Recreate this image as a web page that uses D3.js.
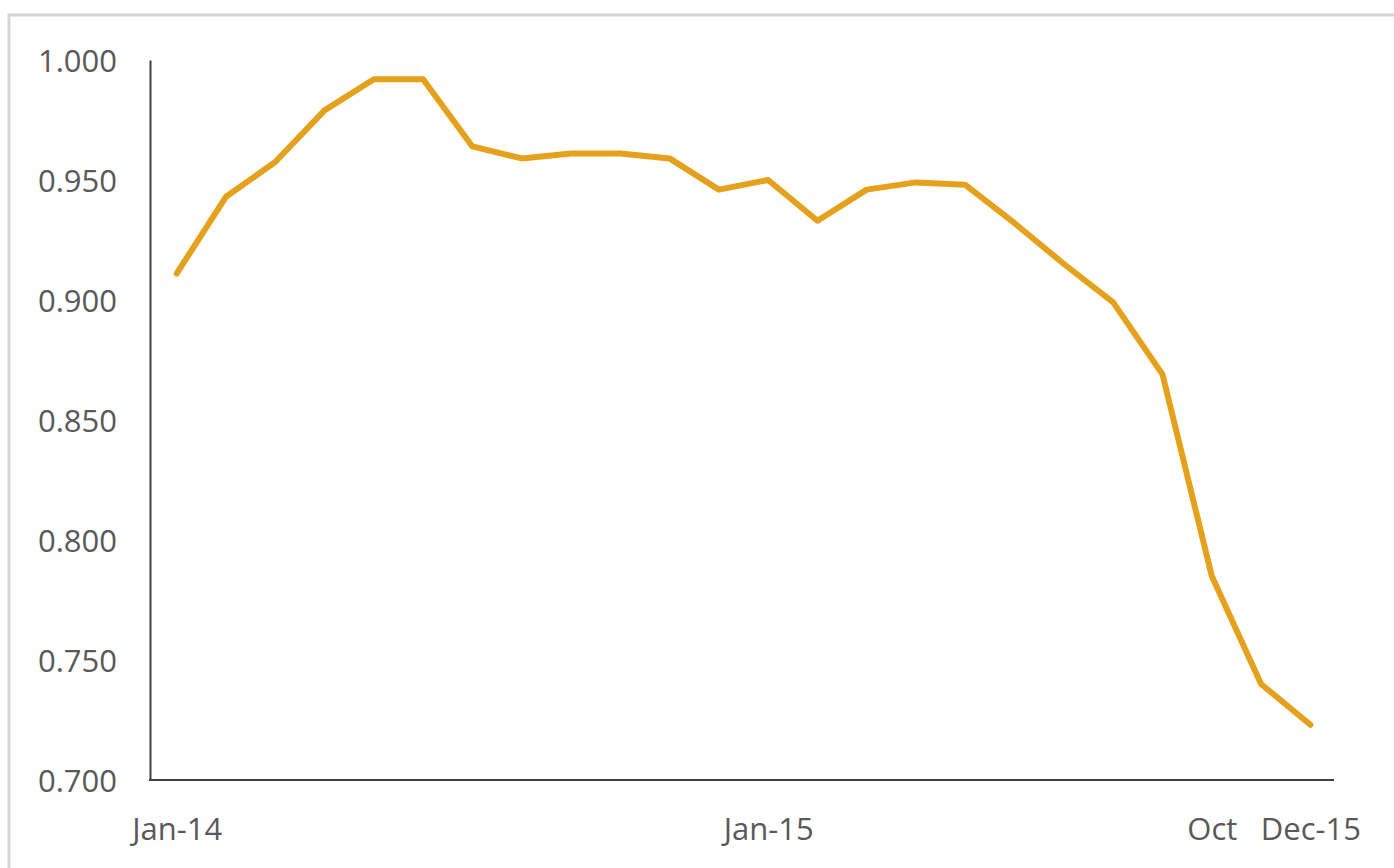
<!DOCTYPE html>
<html>
<head>
<meta charset="utf-8">
<script src="https://cdn.jsdelivr.net/npm/d3@7"></script>
<style>
  html, body { margin: 0; padding: 0; background: #ffffff; }
  svg { display: block; }
  text { font-family: "Open Sans", "Liberation Sans", sans-serif; fill: #595959; }
</style>
</head>
<body>
<svg id="chart" width="1394" height="868"></svg>
<script>
const months = ["Jan-14","Feb-14","Mar-14","Apr-14","May-14","Jun-14","Jul-14","Aug-14","Sep-14","Oct-14","Nov-14","Dec-14",
                "Jan-15","Feb-15","Mar-15","Apr-15","May-15","Jun-15","Jul-15","Aug-15","Sep-15","Oct-15","Nov-15","Dec-15"];
const values = [0.911,0.943,0.9575,0.979,0.992,0.992,0.964,0.959,0.961,0.961,0.959,0.946,
                0.950,0.933,0.946,0.949,0.948,0.932,0.915,0.899,0.869,0.785,0.740,0.723];
const xTickLabels = {"Jan-14":"Jan-14","Jan-15":"Jan-15","Oct-15":"Oct","Dec-15":"Dec-15"};
const yTicks = [0.700,0.750,0.800,0.850,0.900,0.950,1.000];

const svg = d3.select("#chart");

// outer frame (left/top edges visible)
svg.append("rect")
  .attr("x", 9).attr("y", 15).attr("width", 1420).attr("height", 900)
  .attr("fill", "none").attr("stroke", "#d6d6d6").attr("stroke-width", 3);

const plotLeft = 150, plotRight = 1334, plotTop = 60, plotBottom = 780;

const x = d3.scalePoint().domain(months).range([plotLeft + 2, plotRight + 1]).padding(0.5);
const y = d3.scaleLinear().domain([0.7, 1.0]).range([plotBottom, plotTop]);

// Y axis
const yAxis = svg.append("g")
  .attr("transform", `translate(${plotLeft},0)`)
  .call(d3.axisLeft(y).tickValues(yTicks).tickFormat(d3.format(".3f")).tickSize(0).tickPadding(33));
yAxis.select(".domain").attr("stroke", "#404040").attr("stroke-width", 2);
yAxis.selectAll("text").attr("font-size", 31).attr("dy", "0.36em").style("font-family", '"Open Sans", sans-serif').attr("fill", "#595959");

// X axis
const xAxis = svg.append("g")
  .attr("transform", `translate(0,${plotBottom})`)
  .call(d3.axisBottom(x).tickValues(Object.keys(xTickLabels)).tickFormat(d => xTickLabels[d]).tickSize(0).tickPadding(38));
xAxis.select(".domain").remove();
xAxis.selectAll("text").attr("font-size", 31).style("font-family", '"Open Sans", sans-serif').attr("fill", "#595959");
svg.append("line")
  .attr("x1", plotLeft - 1).attr("x2", plotRight)
  .attr("y1", y(0.7)).attr("y2", y(0.7))
  .attr("stroke", "#404040").attr("stroke-width", 2);

// line
const line = d3.line()
  .x((d, i) => x(months[i]))
  .y(d => y(d));
svg.append("path")
  .datum(values)
  .attr("d", line)
  .attr("fill", "none")
  .attr("stroke", "#E6A11C")
  .attr("stroke-width", 6)
  .attr("stroke-linejoin", "round")
  .attr("stroke-linecap", "round");
</script>
</body>
</html>
